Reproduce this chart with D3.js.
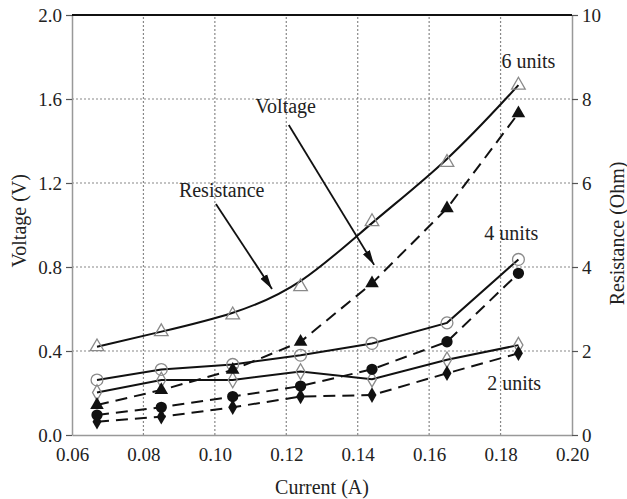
<!DOCTYPE html>
<html>
<head>
<meta charset="utf-8">
<script src="https://cdn.jsdelivr.net/npm/d3@7"></script>
<style>
  body { margin: 0; background: #fff; }
</style>
</head>
<body>
<div id="chart"></div>
<script>
// current through the cells (A)
const current = [0.067, 0.085, 0.105, 0.124, 0.144, 0.165, 0.185];

// resistance (Ohm), right axis
const res6 = [2.10, 2.46, 2.86, 3.53, 5.08, 6.49, 8.33];
const res4 = [1.31, 1.56, 1.68, 1.90, 2.18, 2.67, 4.18];
const res2 = [1.01, 1.31, 1.31, 1.51, 1.33, 1.79, 2.14];

// voltage (V), left axis
const volt6 = [0.143, 0.214, 0.310, 0.444, 0.722, 1.079, 1.532];
const volt4 = [0.095, 0.132, 0.183, 0.233, 0.313, 0.444, 0.770];
const volt2 = [0.063, 0.087, 0.132, 0.183, 0.190, 0.294, 0.389];

const xTicks = [0.06, 0.08, 0.10, 0.12, 0.14, 0.16, 0.18, 0.20];
const vTicks = [0.0, 0.4, 0.8, 1.2, 1.6, 2.0];
const rTicks = [0, 2, 4, 6, 8, 10];

const unitLabels = ["6 units", "4 units", "2 units"];

var ChartModule = (() => {

    const width = 627, height = 499;
    const margin = { top: 15, right: 55, bottom: 64, left: 72 };
    const serif = "'Liberation Serif', 'Times New Roman', Times";

    const x = d3.scaleLinear()
        .domain([0.06, 0.20])
        .range([margin.left, width - margin.right]);

    const yV = d3.scaleLinear()
        .domain([0, 2])
        .range([height - margin.bottom, margin.top]);

    const yR = d3.scaleLinear()
        .domain([0, 10])
        .range([height - margin.bottom, margin.top]);

    const svg = d3.select("#chart")
        .append("svg")
        .attr("width", width)
        .attr("height", height);

    const label = sel => sel
        .style("font-family", serif)
        .attr("font-size", "20px")
        .attr("fill", "#222");

    const defs = svg.append("defs");
    defs.append("marker")
        .attr("id", "arrow")
        .attr("markerUnits", "userSpaceOnUse")
        .attr("markerWidth", 16)
        .attr("markerHeight", 10)
        .attr("refX", 15)
        .attr("refY", 5)
        .attr("orient", "auto")
        .append("path")
        .attr("d", "M0,1 L15,5 L0,9 Z")
        .attr("fill", "#111");

    // grid
    const grid = svg.append("g")
        .attr("stroke", "#888")
        .attr("stroke-width", 1.2)
        .attr("stroke-dasharray", "2,2");

    grid.selectAll(".gx")
        .data(xTicks.slice(1, -1))
        .join("line")
        .attr("x1", d => x(d)).attr("x2", d => x(d))
        .attr("y1", yV(0)).attr("y2", yV(2));

    grid.selectAll(".gy")
        .data(vTicks.slice(1, -1))
        .join("line")
        .attr("x1", x(0.06)).attr("x2", x(0.20))
        .attr("y1", d => yV(d)).attr("y2", d => yV(d));

    // axes
    const fmt2 = d3.format(".2f");
    const fmt1 = d3.format(".1f");

    const styleAxis = g => {
        g.select(".domain").attr("stroke", "#999").attr("stroke-width", 1.5);
        g.selectAll(".tick line").attr("stroke", "#555").attr("stroke-width", 1.2);
        g.selectAll(".tick text")
            .call(label)
            .attr("font-size", "19px");
    };

    svg.append("g")
        .attr("transform", `translate(0,${yV(0)})`)
        .call(d3.axisBottom(x).tickValues(xTicks).tickFormat(fmt2).tickSize(0).tickPadding(13))
        .call(styleAxis);

    svg.append("g")
        .attr("transform", `translate(${x(0.06)},0)`)
        .call(d3.axisLeft(yV).tickValues(vTicks).tickFormat(fmt1).tickSize(6).tickSizeOuter(0).tickPadding(4))
        .call(styleAxis);

    svg.append("g")
        .attr("transform", `translate(${x(0.20)},0)`)
        .call(d3.axisRight(yR).tickValues(rTicks).tickSize(6).tickSizeOuter(0).tickPadding(4))
        .call(styleAxis);

    // top frame line
    svg.append("line")
        .attr("x1", x(0.06)).attr("x2", x(0.20))
        .attr("y1", yV(2)).attr("y2", yV(2))
        .attr("stroke", "#111")
        .attr("stroke-width", 2);

    // axis titles
    svg.append("text")
        .attr("x", (x(0.06) + x(0.20)) / 2)
        .attr("y", 494)
        .attr("text-anchor", "middle")
        .call(label)
        .text("Current (A)");

    svg.append("text")
        .attr("transform", `translate(26,${yV(1.02)}) rotate(-90)`)
        .attr("text-anchor", "middle")
        .call(label)
        .text("Voltage (V)");

    svg.append("text")
        .attr("transform", `translate(624,${yV(0.96)}) rotate(-90)`)
        .attr("text-anchor", "middle")
        .call(label)
        .text("Resistance (Ohm)");

    // series
    const resSeries = [
        { values: res6, symbol: d3.symbolTriangle, size: 80, curve: d3.curveBasis },
        { values: res4, symbol: d3.symbolCircle, size: 110, curve: d3.curveLinear },
        { values: res2, symbol: d3.symbolDiamond, size: 70, curve: d3.curveLinear }
    ];
    const voltSeries = [
        { values: volt6, symbol: d3.symbolTriangle, size: 80 },
        { values: volt4, symbol: d3.symbolCircle, size: 100 },
        { values: volt2, symbol: d3.symbolDiamond, size: 70 }
    ];

    voltSeries.forEach(s => {
        const line = d3.line()
            .x((d, i) => x(current[i]))
            .y(d => yV(d));
        svg.append("path")
            .attr("d", line(s.values))
            .attr("fill", "none")
            .attr("stroke", "#111")
            .attr("stroke-width", 2)
            .attr("stroke-dasharray", "12,7");
    });

    resSeries.forEach(s => {
        const line = d3.line()
            .x((d, i) => x(current[i]))
            .y(d => yR(d))
            .curve(s.curve);
        svg.append("path")
            .attr("d", line(s.values))
            .attr("fill", "none")
            .attr("stroke", "#111")
            .attr("stroke-width", 2);
    });

    resSeries.forEach(s => {
        svg.append("g")
            .selectAll("path")
            .data(s.values)
            .join("path")
            .attr("transform", (d, i) => `translate(${x(current[i])},${yR(d)})`)
            .attr("d", d3.symbol().type(s.symbol).size(s.size))
            .attr("fill", "none")
            .attr("stroke", "#8a8a8a")
            .attr("stroke-width", 1.3);
    });

    voltSeries.forEach(s => {
        svg.append("g")
            .selectAll("path")
            .data(s.values)
            .join("path")
            .attr("transform", (d, i) => `translate(${x(current[i])},${yV(d)})`)
            .attr("d", d3.symbol().type(s.symbol).size(s.size))
            .attr("fill", "#111");
    });

    // annotations (in data units of the current / voltage axes)
    const unitPos = [[0.1878, 1.748], [0.1830, 0.929], [0.1838, 0.214]];
    svg.append("g")
        .selectAll("text")
        .data(unitLabels)
        .join("text")
        .attr("x", (d, i) => x(unitPos[i][0]))
        .attr("y", (d, i) => yV(unitPos[i][1]))
        .attr("text-anchor", "middle")
        .call(label)
        .text(d => d);

    svg.append("text")
        .attr("x", x(0.1198))
        .attr("y", yV(1.535))
        .attr("text-anchor", "middle")
        .call(label)
        .text("Voltage");

    svg.append("text")
        .attr("x", x(0.1019))
        .attr("y", yV(1.135))
        .attr("text-anchor", "middle")
        .call(label)
        .text("Resistance");

    const arrows = [
        [[0.1207, 1.476], [0.1446, 0.810]],
        [[0.1003, 1.100], [0.1160, 0.695]]
    ];
    svg.append("g")
        .selectAll("line")
        .data(arrows)
        .join("line")
        .attr("x1", d => x(d[0][0])).attr("y1", d => yV(d[0][1]))
        .attr("x2", d => x(d[1][0])).attr("y2", d => yV(d[1][1]))
        .attr("stroke", "#111")
        .attr("stroke-width", 1.8)
        .attr("marker-end", "url(#arrow)");

})();
</script>
</body>
</html>
